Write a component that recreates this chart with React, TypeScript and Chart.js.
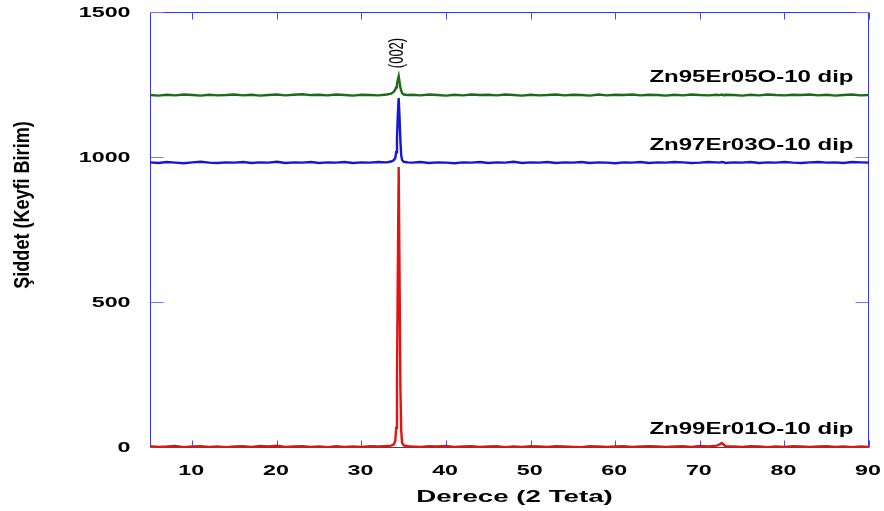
import React, { useEffect, useRef } from "react";
import { Chart, registerables } from "chart.js";

Chart.register(...registerables);

// 2-theta (degrees)
const twoTheta = [
  5, 6, 7, 8, 9, 10, 11, 12, 13, 14,
  15, 16, 17, 18, 19, 20, 21, 22, 23, 24,
  25, 26, 27, 28, 29, 30, 31, 32, 33, 33.5,
  33.8, 34.0, 34.1, 34.2, 34.3, 34.4, 34.5, 34.6, 34.7, 34.8,
  35.0, 35.5, 36, 37, 38, 39, 40, 41, 42, 43,
  44, 45, 46, 47, 48, 49, 50, 51, 52, 53,
  54, 55, 56, 57, 58, 59, 60, 61, 62, 63,
  64, 65, 66, 67, 68, 69, 70, 71, 72, 72.3,
  72.6, 72.9, 73, 74, 75, 76, 77, 78, 79, 80,
  81, 82, 83, 84, 85, 86, 87, 88, 89, 90,
];

// Zn99Er01O-10 dip (red)
const zn99 = [
  6, 4, 5, 7, 3, 5, 6, 4, 5, 3,
  5, 6, 4, 7, 5, 8, 4, 5, 6, 4,
  5, 3, 6, 4, 5, 4, 6, 5, 7, 8,
  12, 25, 70, 240, 620, 969, 600, 210, 60, 18,
  9, 6, 5, 4, 6, 5, 7, 4, 5, 6,
  4, 5, 6, 3, 5, 4, 6, 5, 4, 6,
  5, 4, 3, 6, 5, 4, 5, 6, 4, 5,
  6, 5, 4, 5, 6, 4, 7, 5, 8, 12,
  17, 10, 6, 5, 4, 6, 5, 3, 5, 4,
  6, 5, 4, 5, 6, 4, 5, 3, 5, 4,
];

// Zn97Er03O-10 dip (blue)
const zn97 = [
  985, 983, 986, 984, 982, 985, 987, 984, 983, 985,
  984, 986, 983, 985, 984, 987, 983, 985, 984, 986,
  983, 985, 984, 986, 983, 985, 984, 986, 985, 988,
  992, 1000, 1020, 1070, 1150, 1207, 1140, 1060, 1010, 993,
  987, 985, 984, 986, 983, 985, 984, 982, 985, 984,
  986, 983, 985, 984, 987, 983, 985, 984, 986, 983,
  985, 984, 986, 983, 985, 984, 982, 985, 984, 986,
  983, 985, 984, 986, 985, 983, 984, 986, 985, 984,
  986, 985, 983, 985, 984, 986, 983, 985, 984, 986,
  984, 983, 985, 986, 984, 985, 983, 986, 985, 984,
];

// Zn95Er05O-10 dip (green)
const zn95 = [
  1217, 1215, 1218, 1216, 1219, 1217, 1215, 1218, 1216, 1217,
  1219, 1216, 1218, 1215, 1217, 1219, 1216, 1218, 1220, 1217,
  1218, 1216, 1219, 1217, 1215, 1218, 1217, 1216, 1219, 1222,
  1228, 1236, 1244, 1256, 1270, 1282, 1262, 1244, 1232, 1224,
  1219, 1217, 1218, 1216, 1219, 1217, 1215, 1218, 1216, 1219,
  1217, 1218, 1216, 1219, 1217, 1215, 1218, 1216, 1217, 1219,
  1216, 1218, 1217, 1215, 1219, 1216, 1218, 1217, 1219, 1216,
  1218, 1217, 1215, 1218, 1216, 1219, 1217, 1216, 1218, 1217,
  1219, 1216, 1218, 1217, 1215, 1218, 1216, 1219, 1217, 1216,
  1218, 1217, 1219, 1216, 1218, 1215, 1217, 1219, 1216, 1217,
];

const xTicks = [10, 20, 30, 40, 50, 60, 70, 80, 90];
const yTicks = [0, 500, 1000, 1500];

const seriesNames = ["Zn95Er05O-10 dip", "Zn97Er03O-10 dip", "Zn99Er01O-10 dip"];
const peakLabel = "(002)";
const peakPosition = 34.4;
const xTitle = "Derece (2 Teta)";
const yTitle = "Şiddet (Keyfi Birim)";

const FONT = '"Liberation Sans", Arial, Helvetica, sans-serif';

function stretchText(
  ctx: CanvasRenderingContext2D,
  text: string,
  x: number,
  y: number,
  font: string,
  sx: number,
  align: "left" | "right" | "center",
  baseline: CanvasTextBaseline
) {
  ctx.save();
  ctx.font = font;
  ctx.textBaseline = baseline;
  ctx.textAlign = "left";
  const w = ctx.measureText(text).width * sx;
  const left = align === "right" ? x - w : align === "center" ? x - w / 2 : x;
  ctx.translate(left, y);
  ctx.scale(sx, 1);
  ctx.fillStyle = "#000";
  ctx.fillText(text, 0, 0);
  ctx.restore();
}

const framePlugin = {
  id: "frameAndText",
  beforeDatasetsDraw(chart: any) {
    const { ctx, chartArea } = chart;
    const { left, right, top, bottom } = chartArea;
    const xs = chart.scales.x;
    const ys = chart.scales.y;
    ctx.save();
    ctx.lineWidth = 1;
    ctx.strokeStyle = "#3434ee";
    ctx.beginPath();
    ctx.moveTo(left + 0.5, top - 0.5);
    ctx.lineTo(right - 0.5, top - 0.5);
    ctx.lineTo(right - 0.5, bottom - 0.5);
    ctx.lineTo(left + 0.5, bottom - 0.5);
    ctx.closePath();
    ctx.stroke();
    ctx.strokeStyle = "#4a4af0";
    ctx.beginPath();
    xTicks.forEach((v) => {
      const px = Math.round(xs.getPixelForValue(v)) + 0.5;
      ctx.moveTo(px, bottom - 0.5);
      ctx.lineTo(px, bottom - 7.5);
      ctx.moveTo(px, top - 0.5);
      ctx.lineTo(px, top + 6.5);
    });
    ctx.stroke();
    ctx.strokeStyle = "#7878f4";
    ctx.beginPath();
    yTicks.forEach((v) => {
      const py = Math.round(ys.getPixelForValue(v)) - 0.5;
      ctx.moveTo(left + 0.5, py);
      ctx.lineTo(left + 13.5, py);
      ctx.moveTo(right - 0.5, py);
      ctx.lineTo(right - 13.5, py);
    });
    ctx.stroke();
    ctx.restore();
  },
  afterDraw(chart: any) {
    const { ctx, chartArea } = chart;
    const xs = chart.scales.x;
    const ys = chart.scales.y;
    // tick labels
    yTicks.forEach((v) => {
      stretchText(ctx, String(v), 130.5, ys.getPixelForValue(v), `bold 15.5px ${FONT}`, 1.5, "right", "middle");
    });
    xTicks.forEach((v) => {
      stretchText(ctx, String(v), xs.getPixelForValue(v) - 1, 474.5, `bold 15.5px ${FONT}`, 1.5, "center", "alphabetic");
    });
    // axis titles
    stretchText(ctx, xTitle, 514.5, 502, `bold 17px ${FONT}`, 1.63, "center", "alphabetic");
    ctx.save();
    ctx.translate(29, 205);
    ctx.rotate(-Math.PI / 2);
    ctx.scale(0.82, 1);
    ctx.font = `bold 22px ${FONT}`;
    ctx.textAlign = "center";
    ctx.textBaseline = "alphabetic";
    ctx.fillStyle = "#000";
    ctx.fillText(yTitle, 0, 0);
    ctx.restore();
    // series labels
    const labelBaselines = [82.3, 150, 434];
    seriesNames.forEach((name, i) => {
      const rx = chartArea.right - 15.5;
      stretchText(ctx, name, rx, labelBaselines[i], `bold 16px ${FONT}`, 1.5, "right", "alphabetic");
    });
    // peak label
    ctx.save();
    ctx.translate(xs.getPixelForValue(peakPosition) - 1, 53);
    ctx.scale(1.6, 1);
    ctx.rotate(-Math.PI / 2);
    ctx.font = `13px ${FONT}`;
    ctx.textAlign = "center";
    ctx.textBaseline = "middle";
    ctx.fillStyle = "#000";
    ctx.fillText(peakLabel, 0, 0);
    ctx.restore();
  },
};

export default function App() {
  const ref = useRef<HTMLCanvasElement>(null);
  useEffect(() => {
    const toPts = (ys: number[]) => twoTheta.map((x, i) => ({ x, y: ys[i] }));
    const chart = new Chart(ref.current as HTMLCanvasElement, {
      type: "line",
      data: {
        datasets: [
          { label: seriesNames[2], data: toPts(zn99), borderColor: "#e01414", borderWidth: 2.4, pointRadius: 0, tension: 0 },
          { label: seriesNames[1], data: toPts(zn97), borderColor: "#1616d4", borderWidth: 2.4, pointRadius: 0, tension: 0 },
          { label: seriesNames[0], data: toPts(zn95), borderColor: "#1c6a1c", borderWidth: 2.4, pointRadius: 0, tension: 0 },
        ],
      },
      options: {
        responsive: false,
        maintainAspectRatio: false,
        animation: false,
        devicePixelRatio: 1,
        layout: { padding: { left: 0, top: 13, right: 15, bottom: 0 } },
        plugins: { legend: { display: false }, tooltip: { enabled: false } },
        scales: {
          x: {
            type: "linear",
            min: 5,
            max: 90,
            afterBuildTicks: (s: any) => {
              s.ticks = xTicks.map((v) => ({ value: v }));
            },
            afterFit: (s: any) => {
              s.height = 63;
            },
            ticks: { display: false },
            grid: { display: false },
            border: { display: false },
          },
          y: {
            type: "linear",
            min: 0,
            max: 1500,
            afterBuildTicks: (s: any) => {
              s.ticks = yTicks.map((v) => ({ value: v }));
            },
            afterFit: (s: any) => {
              s.width = 150;
            },
            ticks: { display: false },
            grid: { display: false },
            border: { display: false },
          },
        },
      },
      plugins: [framePlugin],
    });
    return () => chart.destroy();
  }, []);
  return (
    <div style={{ position: "fixed", left: 0, top: 0, width: 884, height: 511, background: "#fff" }}>
      <canvas ref={ref} width={884} height={511} style={{ display: "block", width: 884, height: 511 }} />
    </div>
  );
}
